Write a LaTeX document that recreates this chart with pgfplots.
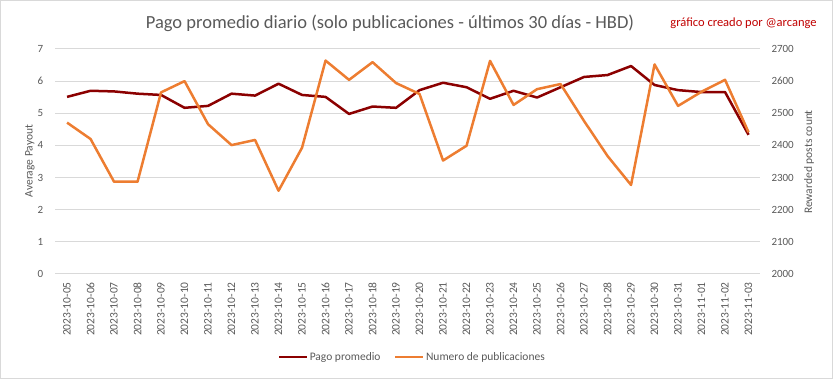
\documentclass[border=0pt]{standalone}
\usepackage{fontspec}
\setmainfont{Carlito}
\usepackage{pgfplots}
\usepackage{pgfplotstable}
\pgfplotsset{compat=1.18}
\definecolor{txt}{HTML}{595959}
\definecolor{grd}{HTML}{D9D9D9}
\definecolor{pago}{HTML}{8B0000}
\definecolor{pub}{HTML}{ED7D31}
\definecolor{credit}{HTML}{C00000}

\pgfplotstableread{
x pago
0 5.51
1 5.70
2 5.68
3 5.61
4 5.57
5 5.17
6 5.23
7 5.61
8 5.55
9 5.92
10 5.57
11 5.51
12 4.98
13 5.21
14 5.17
15 5.72
16 5.95
17 5.81
18 5.45
19 5.70
20 5.49
21 5.81
22 6.13
23 6.19
24 6.47
25 5.88
26 5.72
27 5.66
28 5.66
29 4.33
}\pagotable

\pgfplotstableread{
x pub
0 2471
1 2420
2 2287
3 2287
4 2565
5 2600
6 2466
7 2401
8 2417
9 2259
10 2393
11 2664
12 2604
13 2659
14 2594
15 2560
16 2353
17 2399
18 2663
19 2526
20 2575
21 2591
22 2476
23 2367
24 2277
25 2652
26 2523
27 2567
28 2604
29 2441
}\pubtable

\begin{document}
\begin{tikzpicture}[x=1pt,y=1pt]
\path[use as bounding box] (0,0) rectangle (833,379);
\draw[grd] (0.5,0.5) rectangle (832.5,378.5);

\begin{axis}[
  at={(55.3pt,105pt)}, anchor=south west,
  scale only axis, width=705pt, height=225pt,
  xmin=-0.5, xmax=29.5, ymin=0, ymax=7,
  ytick={0,1,2,3,4,5,6,7},
  xtick={0,...,29},
  xticklabels={2023-10-05,2023-10-06,2023-10-07,2023-10-08,2023-10-09,2023-10-10,2023-10-11,2023-10-12,2023-10-13,2023-10-14,2023-10-15,2023-10-16,2023-10-17,2023-10-18,2023-10-19,2023-10-20,2023-10-21,2023-10-22,2023-10-23,2023-10-24,2023-10-25,2023-10-26,2023-10-27,2023-10-28,2023-10-29,2023-10-30,2023-10-31,2023-11-01,2023-11-02,2023-11-03},
  xticklabel style={rotate=90, anchor=east, font=\fontsize{11.5}{13}\selectfont, text=txt, inner sep=0pt, xshift=-8pt},
  yticklabel style={font=\fontsize{11}{13}\selectfont, text=txt, inner sep=0pt, xshift=-12pt},
  /pgf/number format/assume math mode=true,
  ymajorgrids, grid style={grd, line width=1pt},
  axis line style={draw=none},
  major tick length=0pt,
  tick style={draw=none},
  clip=false,
]
\addplot[pago, line width=2.5pt, line join=round] table[x=x, y=pago] {\pagotable};
\end{axis}

\begin{axis}[
  at={(55.3pt,105pt)}, anchor=south west,
  scale only axis, width=705pt, height=225pt,
  xmin=-0.5, xmax=29.5, ymin=2000, ymax=2700,
  ytick={2000,2100,...,2700},
  axis y line*=right,
  hide x axis,
  axis line style={draw=none},
  major tick length=0pt,
  tick style={draw=none},
  yticklabel style={font=\fontsize{11}{13}\selectfont, text=txt, inner sep=0pt, xshift=11pt, anchor=west},
  /pgf/number format/assume math mode=true,
  /pgf/number format/set thousands separator={},
  legend style={draw=none, fill=none, at={(0.506,-0.369)}, anchor=center,
    legend columns=2, font=\fontsize{11.5}{13}\selectfont, text=txt,
    nodes={inner xsep=1.5pt},
    /tikz/every even column/.append style={column sep=12pt}},
  legend image code/.code={\draw[#1] (-4pt,0pt) -- (24pt,0pt);},
]
\addlegendimage{pago, line width=2.5pt}
\addlegendentry{Pago promedio}
\addplot[pub, line width=2.5pt, line join=round] table[x=x, y=pub] {\pubtable};
\addlegendentry{Numero de publicaciones}
\end{axis}

\node[text=txt, font=\fontsize{18.5}{22}\selectfont] at (390,356) {Pago promedio diario (solo publicaciones - últimos 30 días - HBD)};
\node[text=credit, font=\fontsize{12.5}{15}\selectfont] at (743.5,356) {gráfico creado por @arcange};
\node[text=txt, rotate=90, font=\fontsize{11.5}{13}\selectfont] at (30,218) {Average Payout};
\node[text=txt, rotate=90, font=\fontsize{11.5}{13}\selectfont] at (809,217) {Rewarded posts count};
\end{tikzpicture}
\end{document}
